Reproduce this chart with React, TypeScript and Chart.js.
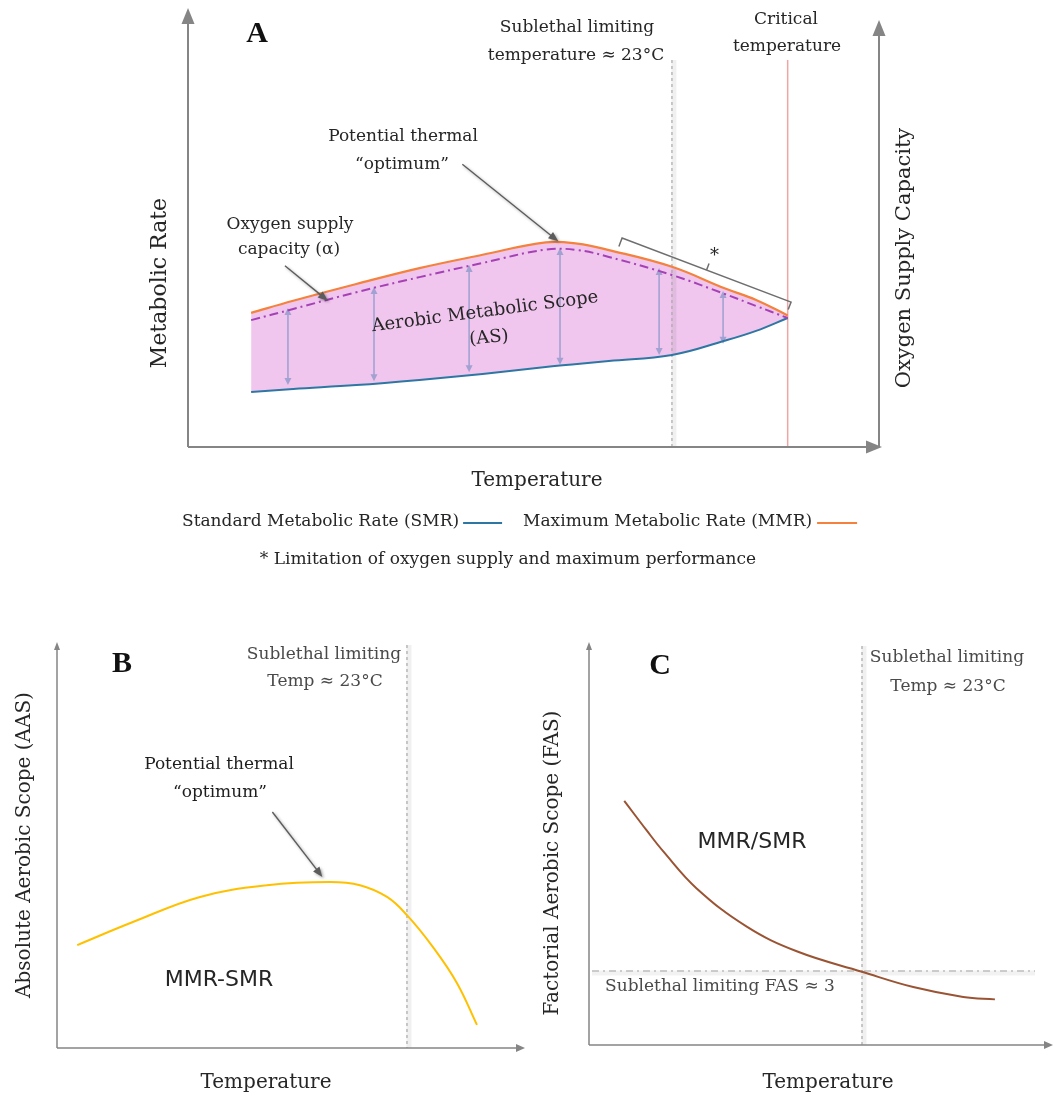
import React, { useEffect, useRef } from "react";
import { Chart, registerables } from "chart.js";

Chart.register(...registerables);

const PAGE_W = 1054;
const PAGE_H = 1099;

// ---------- Panel A data (temperature in °C, rates in relative units) ----------
const tempA = [3, 5, 8, 11, 14, 17, 18.5, 20, 23, 25.5, 27, 28.5];
const mmrA = [31.2, 34.0, 37.9, 41.6, 44.7, 47.6, 47.3, 45.8, 41.9, 36.9, 34.2, 30.6];
const oxygenSupplyA = [29.5, 32.1, 36.0, 39.5, 42.8, 45.9, 45.8, 44.2, 40.0, 35.6, 32.8, 30.0];
const smrA = [12.8, 13.5, 14.4, 15.6, 17.0, 18.6, 19.3, 20.0, 21.4, 24.7, 27.0, 30.0];
const scopeArrowTemps = [4.75, 8.84, 13.36, 17.68, 22.39, 25.43];
const scopeArrowTop = [32.3, 37.2, 42.3, 46.3, 41.6, 36.3];
const scopeArrowBottom = [14.4, 15.3, 17.4, 19.1, 21.4, 24.0];
const sublethalTemp = 23;
const criticalTemp = 28.5;

// ---------- Panel B data ----------
const tempB = [1.33, 4.99, 9.4, 13.8, 17.94, 19.91, 21.69, 23.0, 24.71, 26.29, 27.6];
const aasB = [25.4, 31.1, 37.3, 40.2, 41.0, 40.2, 37.3, 32.8, 24.9, 16.0, 5.7];

// ---------- Panel C data ----------
const tempC = [2.97, 4.86, 6.26, 9.07, 13.29, 17.5, 23.0, 27.32, 31.53, 34.2];
const fasC = [9.9, 8.7, 7.85, 6.35, 4.8, 3.8, 2.97, 2.35, 1.95, 1.85];
const sublethalFAS = 3;

// ---------- styling ----------
const SERIF = '"DejaVu Serif"';
const SANS = '"DejaVu Sans"';
const TXT = "#262626";
const TXT_GRAY = "#4a4a4a";
const AXIS = "#858585";
const MMR_COLOR = "#f4823c";
const SMR_COLOR = "#2f77a3";
const OXY_COLOR = "#a541b5";
const FILL_COLOR = "#f0c6ee";
const SCOPE_ARROW = "#a2a2d2";
const AAS_COLOR = "#ffc000";
const FAS_COLOR = "#9a5434";

function pts(xs: number[], ys: number[]) {
  return xs.map((x, i) => ({ x, y: ys[i] }));
}

function drawText(ctx: CanvasRenderingContext2D, s: string, x: number, y: number, font: string, color: string, align: CanvasTextAlign = "center", rot = 0) {
  ctx.save();
  ctx.translate(x, y);
  if (rot) ctx.rotate((rot * Math.PI) / 180);
  ctx.font = font;
  ctx.fillStyle = color;
  ctx.textAlign = align;
  ctx.textBaseline = "middle";
  ctx.fillText(s, 0, 0);
  ctx.restore();
}

function head(ctx: CanvasRenderingContext2D, x1: number, y1: number, x2: number, y2: number, len: number, half: number, color: string) {
  const a = Math.atan2(y2 - y1, x2 - x1);
  const c = Math.cos(a), s = Math.sin(a);
  ctx.beginPath();
  ctx.moveTo(x2, y2);
  ctx.lineTo(x2 - len * c + half * s, y2 - len * s - half * c);
  ctx.lineTo(x2 - len * c - half * s, y2 - len * s + half * c);
  ctx.closePath();
  ctx.fillStyle = color;
  ctx.fill();
}

function line(ctx: CanvasRenderingContext2D, x1: number, y1: number, x2: number, y2: number) {
  ctx.beginPath();
  ctx.moveTo(x1, y1);
  ctx.lineTo(x2, y2);
  ctx.stroke();
}

function arrow(ctx: CanvasRenderingContext2D, x1: number, y1: number, x2: number, y2: number, color: string, width: number, len: number, half: number) {
  const a = Math.atan2(y2 - y1, x2 - x1);
  ctx.strokeStyle = color;
  ctx.lineWidth = width;
  line(ctx, x1, y1, x2 - len * 0.7 * Math.cos(a), y2 - len * 0.7 * Math.sin(a));
  head(ctx, x1, y1, x2, y2, len, half, color);
}

function shadowArrow(ctx: CanvasRenderingContext2D, x1: number, y1: number, x2: number, y2: number) {
  ctx.save();
  ctx.shadowColor = "rgba(0,0,0,0.35)";
  ctx.shadowBlur = 3;
  ctx.shadowOffsetX = 1.5;
  ctx.shadowOffsetY = 1.5;
  arrow(ctx, x1, y1, x2, y2, "#5c5c5c", 1.4, 10, 4);
  ctx.restore();
}

function dashedGuide(ctx: CanvasRenderingContext2D, x1: number, y1: number, x2: number, y2: number) {
  ctx.save();
  ctx.strokeStyle = "rgba(0,0,0,0.06)";
  ctx.lineWidth = 5;
  line(ctx, x1 + 2, y1, x2 + 2, y2);
  ctx.strokeStyle = "#a8a8a8";
  ctx.lineWidth = 1.2;
  ctx.setLineDash([3, 3]);
  line(ctx, x1, y1, x2, y2);
  ctx.restore();
}

const baseOptions = (padding: any, xMax: number, yMax: number) => ({
  responsive: false,
  animation: false as const,
  devicePixelRatio: 1,
  events: [] as any[],
  layout: { padding },
  scales: {
    x: { type: "linear" as const, min: 0, max: xMax, display: false },
    y: { type: "linear" as const, min: 0, max: yMax, display: false },
  },
  plugins: {
    legend: { display: false },
    tooltip: { enabled: false },
    filler: { drawTime: "beforeDatasetsDraw" as const },
  },
});

// ---------------- Panel A ----------------
const panelAPlugin = {
  id: "panelA",
  beforeDatasetsDraw(chart: any) {
    const { ctx, chartArea: ca, scales } = chart;
    const x = scales.x, y = scales.y;
    ctx.save();
    const xs = x.getPixelForValue(sublethalTemp);
    dashedGuide(ctx, xs, 60, xs, ca.bottom);
    const xc = x.getPixelForValue(criticalTemp);
    ctx.strokeStyle = "#f0a4a4";
    ctx.lineWidth = 1.5;
    line(ctx, xc, 60, xc, ca.bottom);
    // double-headed scope arrows
    scopeArrowTemps.forEach((t, i) => {
      const px = x.getPixelForValue(t);
      const yt = y.getPixelForValue(scopeArrowTop[i]);
      const yb = y.getPixelForValue(scopeArrowBottom[i]);
      ctx.strokeStyle = SCOPE_ARROW;
      ctx.lineWidth = 1.6;
      line(ctx, px, yt + 4, px, yb - 4);
      head(ctx, px, yb, px, yt, 7, 3.5, SCOPE_ARROW);
      head(ctx, px, yt, px, yb, 7, 3.5, SCOPE_ARROW);
    });
    ctx.restore();
  },
  afterDatasetsDraw(chart: any) {
    const { ctx, chartArea: ca, scales } = chart;
    const x = scales.x, y = scales.y;
    ctx.save();
    // axes
    ctx.strokeStyle = AXIS;
    ctx.lineWidth = 2;
    line(ctx, ca.left, ca.bottom, ca.left, 22);
    head(ctx, ca.left, ca.bottom, ca.left, 8, 16, 6.5, AXIS);
    line(ctx, ca.left, ca.bottom, ca.right - 8, ca.bottom);
    head(ctx, ca.left, ca.bottom, ca.right + 3, ca.bottom, 16, 6.5, AXIS);
    line(ctx, ca.right, ca.bottom, ca.right, 34);
    head(ctx, ca.right, ca.bottom, ca.right, 20, 16, 6.5, AXIS);

    // bracket (limitation of oxygen supply)
    const bx1 = x.getPixelForValue(20.63), by1 = y.getPixelForValue(48.6);
    const bx2 = x.getPixelForValue(28.66), by2 = y.getPixelForValue(33.7);
    const dx = bx2 - bx1, dy = by2 - by1, L = Math.hypot(dx, dy);
    const ux = dx / L, uy = dy / L;
    const nx = -uy, ny = ux;
    ctx.strokeStyle = "#6e6e6e";
    ctx.lineWidth = 1.5;
    ctx.beginPath();
    ctx.moveTo(bx1 + nx * 9, by1 + ny * 9);
    ctx.lineTo(bx1, by1);
    ctx.lineTo(bx2, by2);
    ctx.lineTo(bx2 + nx * 8, by2 + ny * 8);
    ctx.stroke();
    const mx = (bx1 + bx2) / 2, my = (by1 + by2) / 2;
    line(ctx, mx, my, mx - nx * 7, my - ny * 7);
    drawText(ctx, "*", mx - nx * 17 + 2, my - ny * 17 + 2, `18px ${SERIF}`, TXT);

    // annotation arrows
    const optX = x.getPixelForValue(17.6), optY = y.getPixelForValue(47.6);
    shadowArrow(ctx, optX - 96, optY - 78, optX, optY - 1);
    const oxX = x.getPixelForValue(6.65), oxY = y.getPixelForValue(34.0);
    shadowArrow(ctx, oxX - 43, oxY - 35, oxX, oxY);

    // texts
    drawText(ctx, "A", 257, 34, `bold 30px "Liberation Serif"`, "#111");
    drawText(ctx, "Sublethal limiting", 577, 28, `17px ${SERIF}`, TXT);
    drawText(ctx, "temperature \u2248 23\u00B0C", 576, 56, `17px ${SERIF}`, TXT);
    drawText(ctx, "Critical", 786, 20, `17px ${SERIF}`, TXT);
    drawText(ctx, "temperature", 787, 47, `17px ${SERIF}`, TXT);
    drawText(ctx, "Potential thermal", 403, 137, `17px ${SERIF}`, TXT);
    drawText(ctx, "\u201Coptimum\u201D", 402, 165, `17px ${SERIF}`, TXT);
    drawText(ctx, "Oxygen supply", 290, 225, `17px ${SERIF}`, TXT);
    drawText(ctx, "capacity (\u03B1)", 289, 250, `17px ${SERIF}`, TXT);
    drawText(ctx, "Aerobic Metabolic Scope", 485, 312, `18px ${SERIF}`, TXT, "center", -7.4);
    drawText(ctx, "(AS)", 489, 338, `18px ${SERIF}`, TXT, "center", -5);
    drawText(ctx, "Temperature", 537, 481, `20px ${SERIF}`, TXT);
    drawText(ctx, "Metabolic Rate", 160, 283, `22px ${SERIF}`, TXT, "center", -90);
    drawText(ctx, "Oxygen Supply Capacity", 905, 258, `21px ${SERIF}`, TXT, "center", -90);

    // legend
    ctx.font = `17px ${SERIF}`;
    let lx = 182;
    const ly = 522;
    const t1 = "Standard Metabolic Rate (SMR)";
    drawText(ctx, t1, lx, ly, `17px ${SERIF}`, TXT, "left");
    lx += ctx.measureText(t1).width + 4;
    ctx.strokeStyle = SMR_COLOR;
    ctx.lineWidth = 2;
    line(ctx, lx, ly + 1, lx + 39, ly + 1);
    lx += 39 + 21;
    const t2 = "Maximum Metabolic Rate (MMR)";
    drawText(ctx, t2, lx, ly, `17px ${SERIF}`, TXT, "left");
    ctx.font = `17px ${SERIF}`;
    lx += ctx.measureText(t2).width + 5;
    ctx.strokeStyle = MMR_COLOR;
    line(ctx, lx, ly + 1, lx + 40, ly + 1);
    drawText(ctx, "* Limitation of oxygen supply and maximum performance", 508, 560, `17px ${SERIF}`, TXT);
    ctx.restore();
  },
};

function configA() {
  return {
    type: "line" as const,
    data: {
      datasets: [
        {
          label: "Maximum Metabolic Rate (MMR)",
          data: pts(tempA, mmrA),
          borderColor: MMR_COLOR,
          borderWidth: 2.2,
          backgroundColor: FILL_COLOR,
          fill: { target: 2 },
          pointRadius: 0,
          tension: 0.4,
        },
        {
          label: "Oxygen supply capacity (\u03B1)",
          data: pts(tempA, oxygenSupplyA),
          borderColor: OXY_COLOR,
          borderWidth: 2,
          borderDash: [9, 4, 2, 4],
          fill: false,
          pointRadius: 0,
          tension: 0.4,
        },
        {
          label: "Standard Metabolic Rate (SMR)",
          data: pts(tempA, smrA),
          borderColor: SMR_COLOR,
          borderWidth: 2,
          fill: false,
          pointRadius: 0,
          tension: 0.4,
        },
      ],
    },
    options: baseOptions({ left: 188, right: PAGE_W - 879, top: 17, bottom: PAGE_H - 447 }, 32.84, 100),
    plugins: [panelAPlugin],
  };
}

// ---------------- Panel B ----------------
const panelBPlugin = {
  id: "panelB",
  beforeDatasetsDraw(chart: any) {
    const { ctx, chartArea: ca, scales } = chart;
    const xs = scales.x.getPixelForValue(sublethalTemp);
    dashedGuide(ctx, xs, 645, xs, ca.bottom);
  },
  afterDatasetsDraw(chart: any) {
    const { ctx, chartArea: ca, scales } = chart;
    ctx.save();
    ctx.strokeStyle = AXIS;
    ctx.lineWidth = 1.5;
    line(ctx, ca.left, ca.bottom, ca.left, 648);
    head(ctx, ca.left, ca.bottom, ca.left, 642, 8, 3, AXIS);
    line(ctx, ca.left, ca.bottom, ca.right - 4, ca.bottom);
    head(ctx, ca.left, ca.bottom, ca.right + 3, ca.bottom, 9, 4, AXIS);

    const ox = scales.x.getPixelForValue(17.9), oy = scales.y.getPixelForValue(41.0);
    shadowArrow(ctx, ox - 57, oy - 70, ox - 7, oy - 5);

    drawText(ctx, "B", 122, 664, `bold 30px "Liberation Serif"`, "#111");
    drawText(ctx, "Sublethal limiting", 324, 655, `17px ${SERIF}`, TXT_GRAY);
    drawText(ctx, "Temp \u2248 23\u00B0C", 325, 682, `17px ${SERIF}`, TXT_GRAY);
    drawText(ctx, "Potential thermal", 219, 765, `17px ${SERIF}`, "#1e1e1e");
    drawText(ctx, "\u201Coptimum\u201D", 220, 793, `17px ${SERIF}`, "#1e1e1e");
    drawText(ctx, "MMR-SMR", 219, 980, `22px ${SANS}`, "#262626");
    drawText(ctx, "Temperature", 266, 1083, `20px ${SERIF}`, TXT);
    drawText(ctx, "Absolute Aerobic Scope (AAS)", 25, 845, `20px ${SERIF}`, TXT, "center", -90);
    ctx.restore();
  },
};

function configB() {
  return {
    type: "line" as const,
    data: {
      datasets: [
        {
          label: "MMR-SMR",
          data: pts(tempB, aasB),
          borderColor: AAS_COLOR,
          borderWidth: 2,
          fill: false,
          pointRadius: 0,
          tension: 0.4,
        },
      ],
    },
    options: baseOptions({ left: 57, right: PAGE_W - 522, top: 643, bottom: PAGE_H - 1048 }, 30.56, 100),
    plugins: [panelBPlugin],
  };
}

// ---------------- Panel C ----------------
const panelCPlugin = {
  id: "panelC",
  beforeDatasetsDraw(chart: any) {
    const { ctx, chartArea: ca, scales } = chart;
    const xs = scales.x.getPixelForValue(sublethalTemp);
    dashedGuide(ctx, xs, 646, xs, ca.bottom);
    const yf = scales.y.getPixelForValue(sublethalFAS);
    ctx.save();
    ctx.strokeStyle = "rgba(0,0,0,0.05)";
    ctx.lineWidth = 5;
    line(ctx, ca.left + 3, yf + 2, 1035, yf + 2);
    ctx.strokeStyle = "#bdbdbd";
    ctx.lineWidth = 1.6;
    ctx.setLineDash([7, 4, 2, 4]);
    line(ctx, ca.left + 3, yf, 1035, yf);
    ctx.restore();
  },
  afterDatasetsDraw(chart: any) {
    const { ctx, chartArea: ca } = chart;
    ctx.save();
    ctx.strokeStyle = AXIS;
    ctx.lineWidth = 1.5;
    line(ctx, ca.left, ca.bottom, ca.left, 648);
    head(ctx, ca.left, ca.bottom, ca.left, 642, 8, 3, AXIS);
    line(ctx, ca.left, ca.bottom, ca.right - 4, ca.bottom);
    head(ctx, ca.left, ca.bottom, ca.right + 3, ca.bottom, 9, 4, AXIS);

    drawText(ctx, "C", 660, 666, `bold 30px "Liberation Serif"`, "#111");
    drawText(ctx, "Sublethal limiting", 947, 658, `17px ${SERIF}`, TXT_GRAY);
    drawText(ctx, "Temp \u2248 23\u00B0C", 948, 687, `17px ${SERIF}`, TXT_GRAY);
    drawText(ctx, "MMR/SMR", 752, 842, `22px ${SANS}`, "#262626");
    drawText(ctx, "Sublethal limiting FAS \u2248 3", 720, 987, `17px ${SERIF}`, TXT_GRAY);
    drawText(ctx, "Temperature", 828, 1083, `20px ${SERIF}`, TXT);
    drawText(ctx, "Factorial Aerobic Scope (FAS)", 553, 863, `20px ${SERIF}`, TXT, "center", -90);
    ctx.restore();
  },
};

function configC() {
  return {
    type: "line" as const,
    data: {
      datasets: [
        {
          label: "MMR/SMR",
          data: pts(tempC, fasC),
          borderColor: FAS_COLOR,
          borderWidth: 2,
          fill: false,
          pointRadius: 0,
          tension: 0.4,
        },
      ],
    },
    options: baseOptions({ left: 589, right: PAGE_W - 1050, top: 643, bottom: PAGE_H - 1045 }, 38.84, 16.3),
    plugins: [panelCPlugin],
  };
}

export default function App() {
  const refA = useRef<HTMLCanvasElement | null>(null);
  const refB = useRef<HTMLCanvasElement | null>(null);
  const refC = useRef<HTMLCanvasElement | null>(null);

  useEffect(() => {
    const charts: Chart[] = [];
    if (refA.current) charts.push(new Chart(refA.current, configA() as any));
    if (refB.current) charts.push(new Chart(refB.current, configB() as any));
    if (refC.current) charts.push(new Chart(refC.current, configC() as any));
    return () => charts.forEach((c) => c.destroy());
  }, []);

  const canvasStyle: React.CSSProperties = {
    position: "absolute",
    left: 0,
    top: 0,
    width: PAGE_W,
    height: PAGE_H,
  };

  return (
    <div style={{ position: "absolute", left: 0, top: 0, width: PAGE_W, height: PAGE_H, background: "#fff", overflow: "hidden" }}>
      <canvas ref={refA} width={PAGE_W} height={PAGE_H} style={canvasStyle} />
      <canvas ref={refB} width={PAGE_W} height={PAGE_H} style={canvasStyle} />
      <canvas ref={refC} width={PAGE_W} height={PAGE_H} style={canvasStyle} />
    </div>
  );
}
